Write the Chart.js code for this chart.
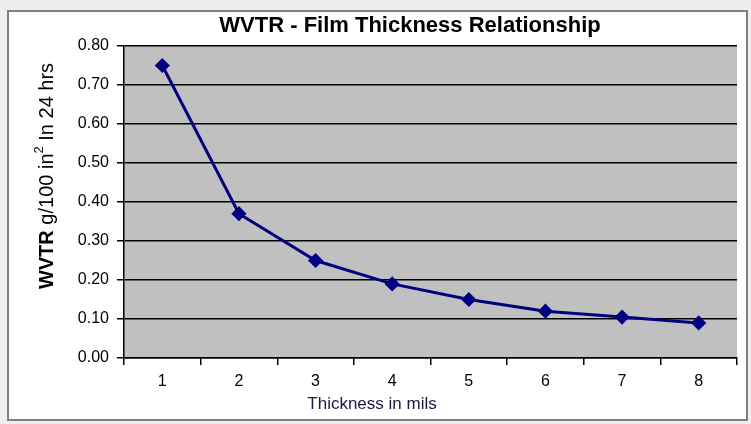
<!DOCTYPE html>
<html>
<head>
<meta charset="utf-8">
<script src="https://cdn.jsdelivr.net/npm/chart.js@4.4.0/dist/chart.umd.min.js"></script>
<style>
  html, body { margin: 0; padding: 0; background: #ffffff; }
  #wrap { width: 751px; height: 424px; }
</style>
</head>
<body>
<div id="wrap"><canvas id="chart" width="751" height="424"></canvas></div>
<script>
const thickness = ['1', '2', '3', '4', '5', '6', '7', '8'];
const wvtr = [0.75, 0.37, 0.25, 0.19, 0.15, 0.12, 0.105, 0.09];
const yTicks = [0, 0.1, 0.2, 0.3, 0.4, 0.5, 0.6, 0.7, 0.8];

const chartTitle = 'WVTR - Film Thickness Relationship';
const xTitle = 'Thickness in mils';
const FONT = 'Arial, "Liberation Sans", sans-serif';

// frame, grey plot area, titles
const decor = {
  id: 'decor',
  beforeDraw(chart) {
    const { ctx, chartArea: a, width, height } = chart;
    ctx.save();
    ctx.fillStyle = '#eeeeee';
    ctx.fillRect(0, 0, width, height);
    ctx.fillStyle = '#ffffff';
    ctx.fillRect(8, 11, width - 12, height - 15);
    ctx.strokeStyle = '#808080';
    ctx.lineWidth = 2;
    ctx.strokeRect(8, 11, width - 12, height - 15);
    ctx.fillStyle = '#c0c0c0';
    ctx.fillRect(a.left, a.top, a.right - a.left, a.bottom - a.top);
    ctx.restore();
  },
  afterDraw(chart) {
    const { ctx } = chart;
    ctx.save();
    ctx.fillStyle = '#000000';
    ctx.textAlign = 'center';
    ctx.textBaseline = 'middle';
    ctx.font = 'bold 22px ' + FONT;
    ctx.fillText(chartTitle, 410, 26);
    ctx.fillStyle = '#1a1a40';
    ctx.font = '17px ' + FONT;
    ctx.fillText(xTitle, 372, 404);

    // y title: bold WVTR + superscript 2
    const parts = [
      { t: 'WVTR', f: 'bold 20px ' + FONT, dy: 0 },
      { t: ' g/100 in', f: '20px ' + FONT, dy: 0 },
      { t: '2', f: '13px ' + FONT, dy: -8 },
      { t: ' In 24 hrs', f: '20px ' + FONT, dy: 0 }
    ];
    let total = 0;
    parts.forEach(p => { ctx.font = p.f; p.w = ctx.measureText(p.t).width; total += p.w; });
    ctx.translate(47, 176);
    ctx.rotate(-Math.PI / 2);
    ctx.fillStyle = '#000000';
    ctx.textAlign = 'left';
    let x = -total / 2;
    parts.forEach(p => {
      ctx.font = p.f;
      ctx.fillText(p.t, x, p.dy);
      x += p.w;
    });
    ctx.restore();
  }
};

new Chart(document.getElementById('chart'), {
  type: 'line',
  data: {
    labels: thickness,
    datasets: [{
      data: wvtr,
      borderColor: '#000080',
      backgroundColor: '#000080',
      borderWidth: 3,
      pointStyle: 'rectRot',
      pointRadius: 5.5,
      pointBackgroundColor: '#000080',
      pointBorderColor: '#000080',
      tension: 0
    }]
  },
  options: {
    responsive: false,
    animation: false,
    layout: { padding: { left: 0, right: 14, top: 46, bottom: 0 } },
    plugins: {
      legend: { display: false },
      tooltip: { enabled: false },
      title: { display: false }
    },
    scales: {
      x: {
        offset: true,
        afterFit(scale) { scale.height = 66; },
        grid: {
          offset: true,
          drawOnChartArea: false,
          drawTicks: true,
          tickLength: 7,
          color: '#000000',
          lineWidth: 1.5
        },
        border: { color: '#000000', width: 1.5 },
        ticks: {
          color: '#000000',
          padding: 7,
          font: { family: FONT, size: 16 }
        }
      },
      y: {
        min: 0,
        max: 0.8,
        afterFit(scale) { scale.width = 124; },
        afterBuildTicks(axis) { axis.ticks = yTicks.map(v => ({ value: v })); },
        grid: {
          color: '#000000',
          lineWidth: 1.5,
          tickLength: 7
        },
        border: { color: '#000000', width: 1.5 },
        ticks: {
          color: '#000000',
          padding: 8,
          font: { family: FONT, size: 16 },
          callback: v => Number(v).toFixed(2)
        }
      }
    }
  },
  plugins: [decor]
});
</script>
</body>
</html>
